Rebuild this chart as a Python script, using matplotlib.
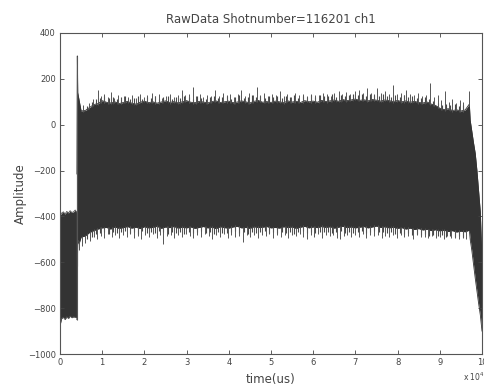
import numpy as np
import matplotlib
matplotlib.use("Agg")
import matplotlib.pyplot as plt

# ---- data (time in units of 1e4 us) ----
# Envelope of the dense signal before the jump
pre_t = [0.00, 0.04, 0.08, 0.12, 0.16, 0.20, 0.24, 0.28, 0.32, 0.36, 0.39]
pre_hi = [-395, -385, -380, -390, -378, -385, -375, -383, -380, -372, -380]
pre_lo = [-875, -845, -840, -850, -838, -845, -835, -842, -838, -840, -840]

# Transition at the jump
jump_t = [0.40, 0.41, 0.42, 0.45, 0.50]
jump_hi = [-215, 300, 140, 110, 60]
jump_lo = [-850, -615, -500, -520, -490]

# Core envelope of the main band, sampled every 0.1 from 0.6 to 9.6
main_t = np.round(np.arange(0.6, 9.65, 0.1), 2)
main_hi = [62, 75, 88, 92, 105, 98, 95, 100, 92, 97, 102, 94, 90, 98, 103, 96, 100, 94, 99, 104, 97, 101, 95, 100, 105,
           98, 96, 102, 99, 95, 101, 104, 97, 100, 103, 96, 99, 104, 100, 95, 102, 106, 98, 101, 97,
           103, 100, 96, 104, 99, 102, 97, 105, 100, 103, 98, 106, 101, 104, 108, 102, 110, 105, 108, 112,
           106, 109, 104, 110, 107, 103, 108, 105, 101, 106, 100, 104, 98, 102, 97, 95, 99, 90, 84, 72,
           66, 70, 62, 65, 60, 64]
main_lo = [-485, -470, -462, -455, -450, -448, -455, -446, -452, -449, -444, -451, -447, -453, -445, -450, -448, -443, -452, -446, -449, -444, -451, -447, -450,
           -446, -452, -448, -444, -450, -447, -453, -445, -449, -451, -446, -443, -450, -448, -452, -445, -449, -447, -444, -450,
           -448, -451, -445, -449, -446, -452, -447, -443, -450, -446, -449, -444, -448, -445, -451, -447, -443, -449, -446, -450,
           -447, -444, -450, -446, -442, -448, -445, -450, -447, -452, -449, -455, -451, -457, -453, -459, -456, -462, -458, -463,
           -460, -466, -462, -468, -464, -467]

# Decay at the end
end_t = [9.70, 9.72, 9.76, 9.80, 9.84, 9.88, 9.92, 9.96, 10.0]
end_hi = [90, 20, -30, -80, -125, -200, -290, -380, -590]
end_lo = [-460, -500, -550, -610, -670, -725, -780, -830, -900]

# Large noise spikes above / below the band
spk_hi_t = [0.55, 0.68, 0.78, 0.89, 0.97, 1.05, 1.13, 1.20, 1.28, 1.37, 1.45, 1.52, 1.62, 1.71, 1.80, 1.90, 1.98,
            2.07, 2.17, 2.25, 2.34, 2.42, 2.50, 2.60, 2.70, 2.79, 2.88, 2.96, 3.05, 3.14, 3.22, 3.31, 3.40, 3.49,
            3.58, 3.67, 3.76, 3.87, 3.95, 4.04, 4.12, 4.21, 4.30, 4.38, 4.47, 4.57, 4.66, 4.74, 4.83, 4.92, 5.02,
            5.11, 5.21, 5.30, 5.39, 5.48, 5.58, 5.67, 5.76, 5.85, 5.95, 6.04, 6.13, 6.23, 6.32, 6.41, 6.50, 6.60,
            6.69, 6.78, 6.88, 6.98, 7.09, 7.18, 7.28, 7.37, 7.45, 7.51, 7.60, 7.70, 7.80, 7.89, 7.98, 8.07, 8.14,
            8.21, 8.30, 8.40, 8.49, 8.58, 8.67, 8.77, 8.86, 8.95, 9.04, 9.12, 9.21, 9.30, 9.38, 9.47, 9.56, 9.69]
spk_hi_v = [85, 95, 110, 150, 125, 135, 120, 141, 118, 130, 115, 125, 120, 128, 118, 135, 122,
            128, 140, 125, 132, 118, 126, 135, 120, 130, 150, 128, 135, 165, 125, 132, 120, 130,
            126, 150, 124, 140, 128, 135, 122, 132, 150, 126, 138, 130, 165, 128, 140, 125, 132,
            128, 145, 126, 135, 122, 138, 128, 134, 124, 136, 130, 128, 140, 132, 126, 138, 145,
            135, 142, 134, 148, 150, 138, 160, 140, 135, 160, 138, 145, 132, 175, 136, 140, 128,
            150, 135, 128, 138, 125, 130, 180, 120, 130, 108, 145, 100, 112, 95, 108, 98, 145]
spk_lo_t = [0.46, 0.52, 0.60, 0.70, 0.80, 0.88, 0.97, 1.05, 1.14, 1.23, 1.31, 1.40, 1.49, 1.58, 1.66, 1.75, 1.84,
            1.93, 2.02, 2.11, 2.20, 2.29, 2.37, 2.44, 2.53, 2.62, 2.71, 2.80, 2.89, 2.98, 3.07, 3.16, 3.25, 3.34,
            3.43, 3.52, 3.61, 3.70, 3.79, 3.88, 3.97, 4.06, 4.15, 4.24, 4.33, 4.42, 4.51, 4.60, 4.69, 4.78, 4.87,
            4.96, 5.05, 5.14, 5.23, 5.32, 5.41, 5.50, 5.59, 5.68, 5.77, 5.85, 5.94, 6.03, 6.12, 6.21, 6.30, 6.39,
            6.48, 6.57, 6.63, 6.72, 6.81, 6.90, 6.99, 7.08, 7.17, 7.26, 7.35, 7.44, 7.53, 7.62, 7.71, 7.80, 7.89,
            7.98, 8.07, 8.16, 8.25, 8.37, 8.46, 8.55, 8.64, 8.73, 8.82, 8.91, 9.00, 9.09, 9.18, 9.27, 9.36, 9.45,
            9.54, 9.63, 9.72]
spk_lo_v = [-545, -530, -515, -505, -490, -500, -485, -495, -478, -490, -482, -496, -480, -488, -476, -492, -484,
            -498, -481, -489, -477, -494, -483, -520, -486, -479, -493, -482, -490, -476, -487, -495, -480, -491,
            -478, -486, -499, -482, -488, -476, -492, -481, -489, -484, -510, -479, -490, -483, -496, -480, -487,
            -477, -493, -482, -488, -479, -495, -481, -486, -478, -491, -500, -483, -489, -477, -494, -482, -487,
            -480, -492, -500, -484, -479, -490, -483, -488, -477, -495, -481, -486, -479, -492, -484, -489, -480,
            -494, -483, -490, -486, -497, -482, -491, -488, -495, -485, -493, -490, -498, -487, -496, -492, -499,
            -494, -500, -510]

# Smaller spikes between the grid samples (0.65 ... 9.55)
small_t = np.round(np.arange(0.65, 9.6, 0.1), 2)
small_hi = [80, 98, 112, 118, 126, 115, 122, 110, 119, 124, 113, 117, 126, 112, 121, 116, 124, 111, 120, 127, 114, 122, 118, 125,
            120, 114, 126, 118, 112, 123, 127, 116, 121, 125, 113, 120, 128, 117, 122, 130, 119, 124, 118, 126,
            122, 127, 115, 124, 120, 129, 117, 125, 121, 128, 119, 130, 124, 127, 133, 122, 131, 126, 129, 135,
            128, 132, 124, 134, 129, 126, 133, 127, 122, 131, 123, 128, 120, 126, 118, 115, 122, 112, 104, 95,
            88, 92, 84, 90, 82, 88]
small_lo = [-500, -488, -478, -472, -468, -475, -466, -472, -470, -464, -473, -468, -476, -465, -471, -469, -474, -463, -470, -478, -466, -472, -469, -475,
            -468, -474, -470, -465, -473, -469, -476, -466, -471, -474, -468, -463, -472, -470, -477, -466, -471, -469, -465, -473,
            -470, -474, -466, -471, -468, -475, -469, -464, -472, -467, -471, -466, -470, -467, -474, -469, -464, -471, -468, -472,
            -469, -465, -472, -468, -464, -470, -467, -473, -469, -475, -471, -477, -473, -479, -475, -481, -478, -484, -480, -485,
            -482, -488, -484, -490, -486, -489]

x_ticks = list(range(0, 11))
y_ticks = [-1000, -800, -600, -400, -200, 0, 200, 400]
title = "RawData Shotnumber=116201 ch1"

# ---- plot ----
fig = plt.figure(figsize=(4.84, 3.85), dpi=100)
ax = fig.add_axes([60 / 484, 1 - 354 / 385, 422 / 484, 321 / 385])

band_col = "#333333"
spike_col = "#484848"
ax.fill_between(pre_t, pre_lo, pre_hi, color=band_col, lw=0)
ax.plot(pre_t, pre_hi, color="#555555", lw=0.6)
ax.plot(pre_t, pre_lo, color="#555555", lw=0.6)

t_all = list(jump_t) + list(main_t) + list(end_t)
hi_all = list(jump_hi) + list(main_hi) + list(end_hi)
lo_all = list(jump_lo) + list(main_lo) + list(end_lo)
ax.fill_between(t_all, lo_all, hi_all, color=band_col, lw=0)
ax.plot(t_all, hi_all, color=band_col, lw=0.6)
ax.plot(t_all, lo_all, color=band_col, lw=0.6)
ax.vlines([0.40, 0.41], [-850, -615], [-215, 300], color="#555555", lw=0.8)

# spikes start at the band edge
ax.vlines(small_t, np.interp(small_t, t_all, hi_all) - 5, small_hi, color=spike_col, lw=0.8)
ax.vlines(small_t, np.interp(small_t, t_all, lo_all) + 5, small_lo, color=spike_col, lw=0.8)
ax.vlines(spk_hi_t, np.interp(spk_hi_t, t_all, hi_all) - 5, spk_hi_v, color="#555555", lw=0.7)
ax.vlines(spk_lo_t, np.interp(spk_lo_t, t_all, lo_all) + 5, spk_lo_v, color="#555555", lw=0.7)

ax.set_xlim(0, 10)
ax.set_ylim(-1000, 400)
ax.set_xticks(x_ticks)
ax.set_yticks(y_ticks)
ax.tick_params(direction="in", length=3, width=0.6, colors="#444444", labelsize=6,
               top=True, right=True, pad=3)
for s in ax.spines.values():
    s.set_color("#555555")
    s.set_linewidth(0.8)

ax.set_title(title, fontsize=8.5, color="#444444", pad=7)
ax.set_xlabel("time(us)", fontsize=8.5, color="#444444", labelpad=4)
ax.set_ylabel("Amplitude", fontsize=8.5, color="#444444", labelpad=1)
fig.text(463 / 484, 1 - 381 / 385, r"x 10$^4$", fontsize=5.5, color="#444444")

fig.savefig("out.png", dpi=100, facecolor="white")
